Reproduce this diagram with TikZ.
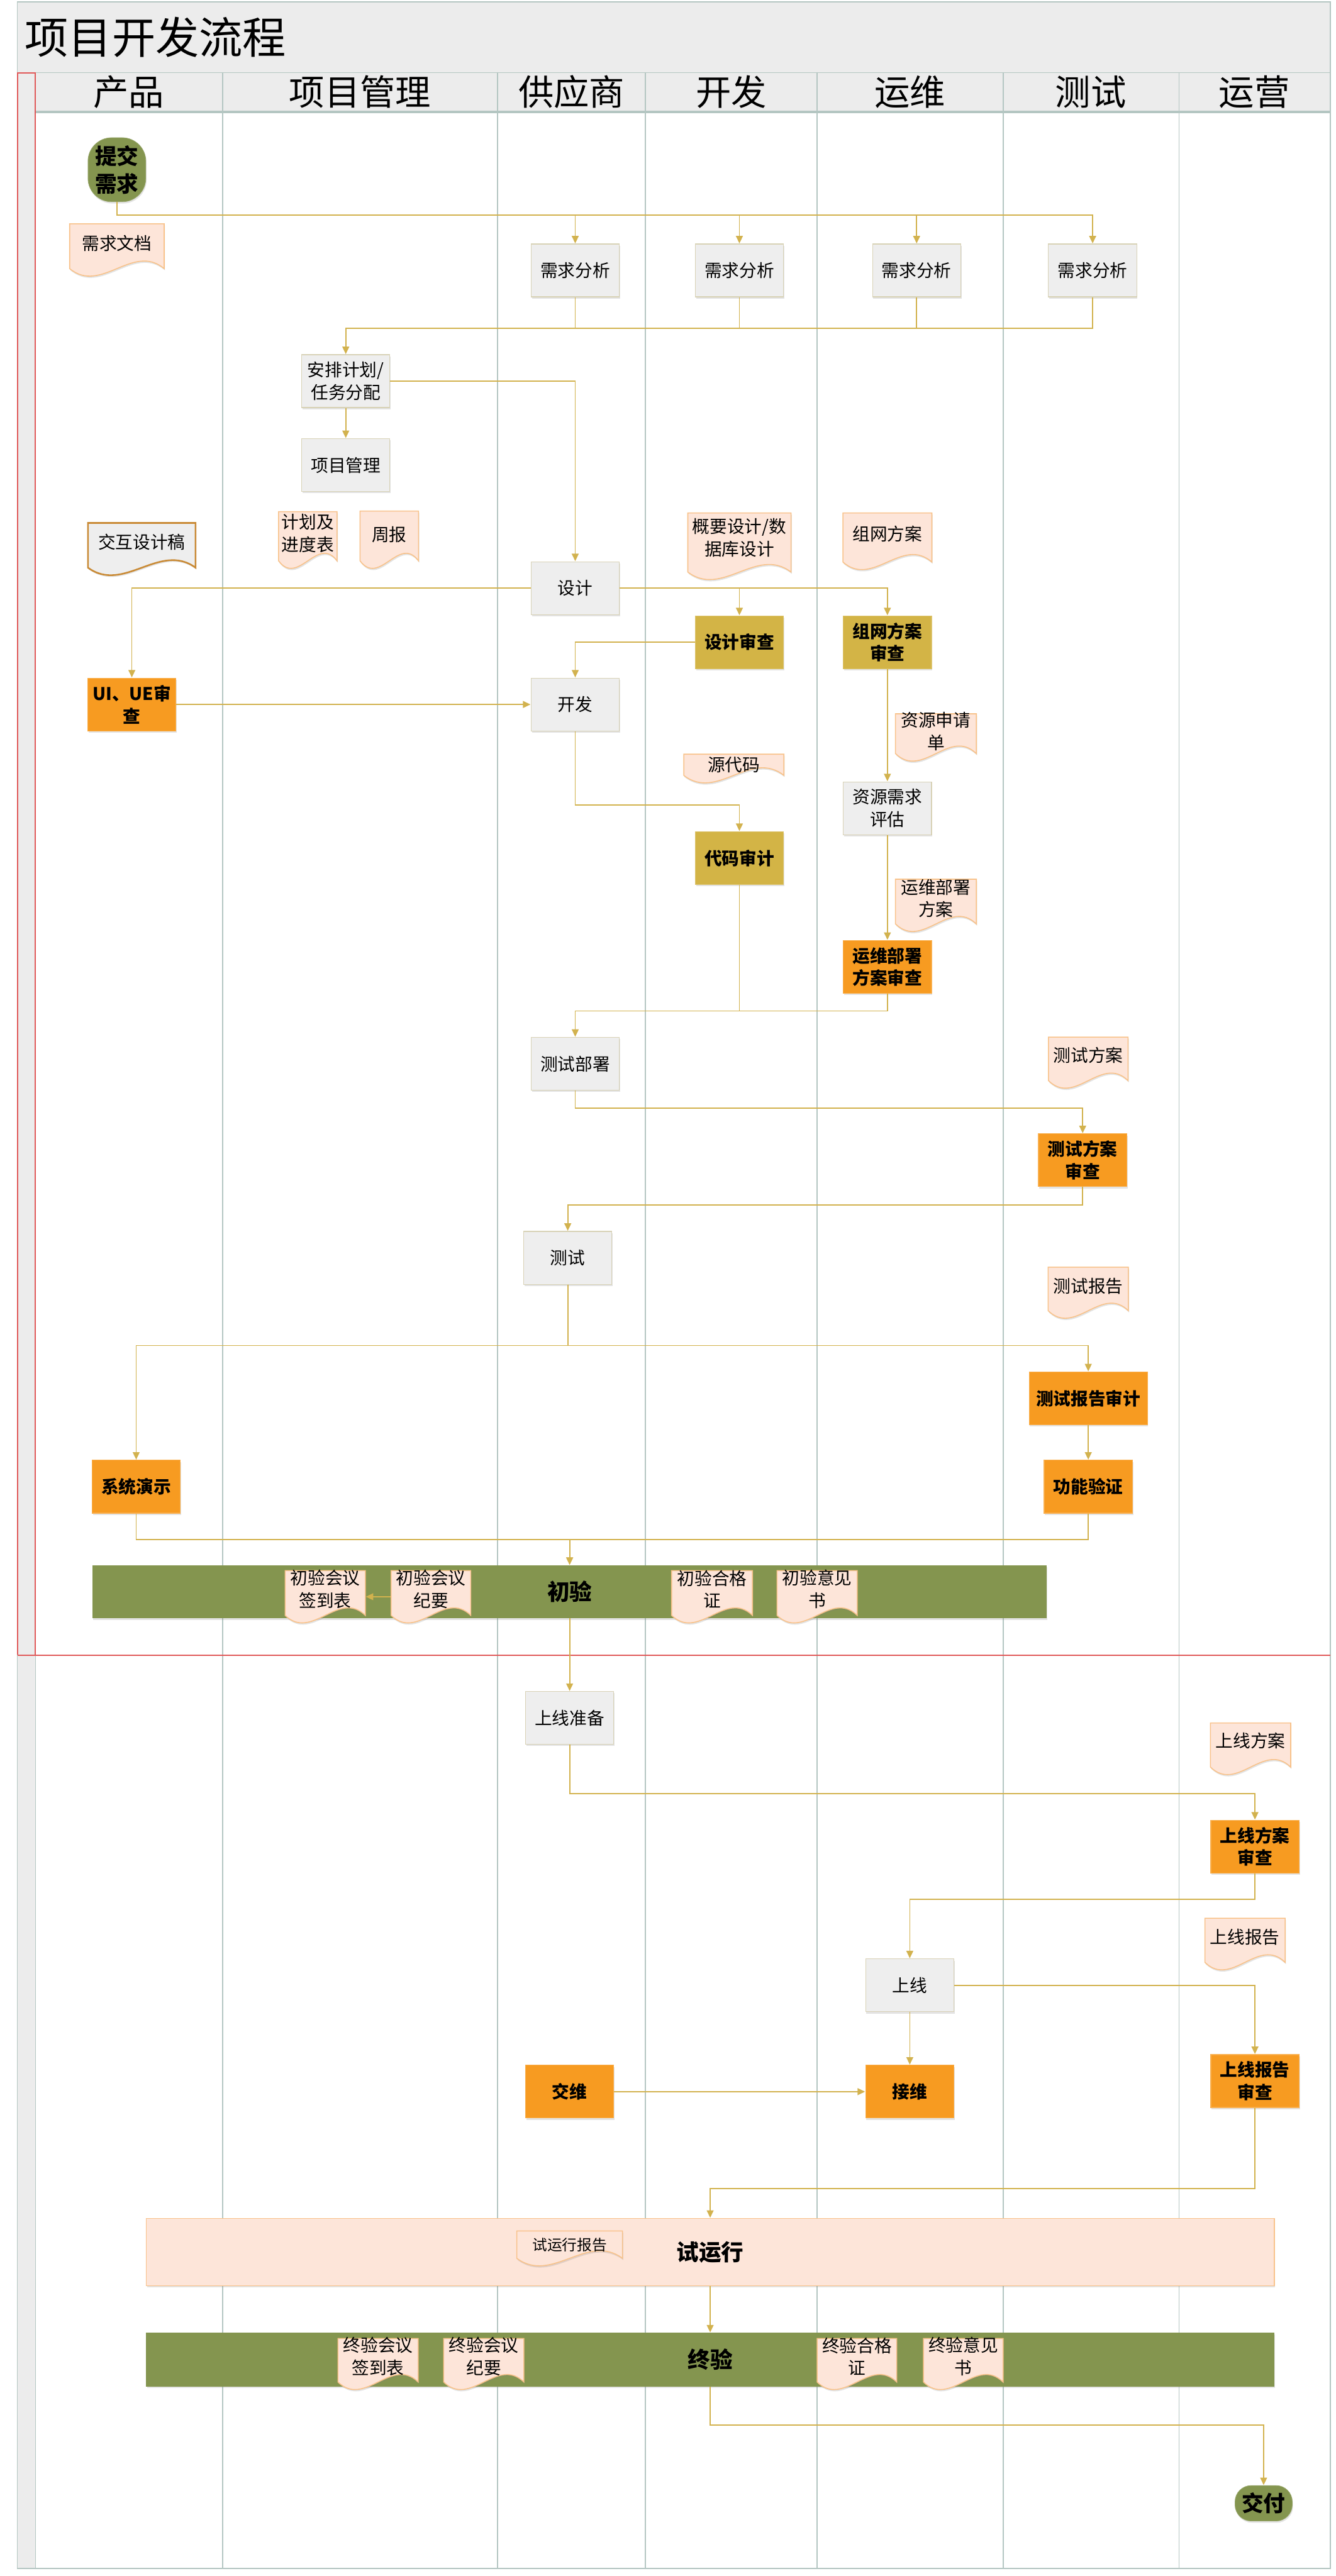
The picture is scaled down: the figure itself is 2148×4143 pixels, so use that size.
\documentclass[tikz,border=0pt]{standalone}
\usepackage{fontspec}
\setmainfont{Noto Sans CJK SC}
\usetikzlibrary{arrows.meta,shadows,calc}
\definecolor{boxgray}{HTML}{EEEEEE}
\definecolor{boxline}{HTML}{D8D2B6}
\definecolor{orangefill}{HTML}{F79B21}
\definecolor{goldfill}{HTML}{D3B446}
\definecolor{greenfill}{HTML}{84954F}
\definecolor{peach}{HTML}{FDE5D9}
\definecolor{peachline}{HTML}{F8C28A}
\definecolor{connc}{HTML}{D2B24E}
\definecolor{lanec}{HTML}{B4C6C2}
\definecolor{headfill}{HTML}{ECECEC}
\definecolor{redline}{HTML}{E05858}
\definecolor{ixdline}{HTML}{C98A35}
\newcommand\docshape[8]{%
  \pgfmathsetmacro\dxL{#2-#4/2}%
  \pgfmathsetmacro\dxR{#2+#4/2}%
  \pgfmathsetmacro\dyB{#3+#5-12}%
  \pgfmathsetmacro\dxA{#2-#4/6}%
  \pgfmathsetmacro\dxB{#2+#4/6}%
  \pgfmathsetmacro\dyA{\dyB+42}%
  \pgfmathsetmacro\dyC{\dyB-42}%
  \pgfmathsetmacro\dyM{#3+#5/2}%
  \pgfmathsetmacro\dyT{#3+#6}%
  \draw[#7] (\dxL,#3) -- (\dxL,\dyB) .. controls (\dxA,\dyA) and (\dxB,\dyC) .. (\dxR,\dyB) -- (\dxR,#3) -- cycle;
  \node[hidden,minimum width=#4*0.5pt,minimum height=#5*0.5pt] (#1) at (#2,\dyM) {};
  \node[doctext] (#1-t) at (#2,\dyT) {#8};
}
\begin{document}
\begin{tikzpicture}[x=0.5pt,y=-0.5pt,
  every node/.style={font=\fontsize{14}{18}\selectfont},
  shad/.style={drop shadow={shadow xshift=0.6pt,shadow yshift=-1.4pt,opacity=0.22}},
  pbox/.style={shad,draw=boxline,line width=0.6pt,fill=boxgray,minimum width=71pt,minimum height=42.5pt,inner sep=1pt,align=center},
  obox/.style={pbox,fill=orangefill,draw=orangefill!80!white,font=\fontsize{14}{18}\selectfont\bfseries},
  gbox/.style={pbox,fill=goldfill,draw=goldfill!80!white,font=\fontsize{14}{18}\selectfont\bfseries},
  term/.style={shad,fill=greenfill,draw=greenfill!85!white,align=center,inner sep=1pt,font=\fontsize{17.5}{22}\selectfont\bfseries},
  band/.style={shad,inner sep=0pt,font=\fontsize{18}{22}\selectfont\bfseries},
  wire/.style={draw=connc,line width=0.9pt},
  arr/.style={wire,-{Triangle[length=6pt,width=5.5pt]},shorten >=0.2pt},
  docpath/.style={fill=peach,draw=peachline,line width=0.8pt,shad},
  ixdpath/.style={fill=boxgray,draw=ixdline,line width=1.3pt,shad},
  doctext/.style={inner sep=0pt,align=center},
  hidden/.style={inner sep=0pt,draw=none},
  head/.style={font=\fontsize{28.5}{32}\selectfont}
]
\useasboundingbox (0,0) rectangle (2148,4143);
% title band
\fill[white] (0,0) rectangle (2148,4143);
\draw[draw=lanec,fill=headfill,line width=0.8pt] (28,3) rectangle (2139,117);
\node[anchor=west,font=\fontsize{35}{40}\selectfont] (title) at (33,60) {项目开发流程};
% header band
\draw[draw=lanec,fill=headfill,line width=0.8pt] (57,117) rectangle (2139,180);
\draw[lanec,line width=1.6pt] (57,180) -- (2139,180);
% left strips
\fill[headfill] (28,117) rectangle (57,4131);
\draw[redline,line width=0.9pt] (28,117) rectangle (57,2662);
\draw[lanec,line width=0.8pt] (28,2662) rectangle (57,4131);
% lane dividers
\foreach \xx in {358,800,1038,1314,1613,1896}{
  \draw[lanec,line width=0.8pt] (\xx,117) -- (\xx,4131);
}
\draw[lanec,line width=0.8pt] (2139,117) -- (2139,4131) -- (57,4131);
\draw[redline,line width=0.8pt] (28,2662) -- (2139,2662);
% headers
\node[head] (h1) at (207,148) {产品};
\node[head] (h2) at (579,148) {项目管理};
\node[head] (h3) at (919,148) {供应商};
\node[head] (h4) at (1176,148) {开发};
\node[head] (h5) at (1463,148) {运维};
\node[head] (h6) at (1754,148) {测试};
\node[head] (h7) at (2017,148) {运营};

% terminals
\node[term,minimum width=46.5pt,minimum height=51.5pt,rounded corners=19pt] (submit) at (188,273) {提交\\需求};
\node[term,minimum width=46pt,minimum height=28.5pt,rounded corners=13pt] (deliver) at (2032,4026) {交付};

% gray process boxes
\node[pbox] (ra1) at (925,435) {需求分析};
\node[pbox] (ra2) at (1189,435) {需求分析};
\node[pbox] (ra3) at (1474,435) {需求分析};
\node[pbox] (ra4) at (1757,435) {需求分析};
\node[pbox] (plan) at (556,613) {安排计划/\\任务分配};
\node[pbox] (pm) at (556,748) {项目管理};
\node[pbox] (design) at (925,946) {设计};
\node[pbox] (dev) at (925,1133) {开发};
\node[pbox] (resev) at (1427,1300) {资源需求\\评估};
\node[pbox] (testdeploy) at (925,1711) {测试部署};
\node[pbox] (test) at (913,2023) {测试};
\node[pbox] (prep) at (916,2763) {上线准备};
\node[pbox] (online) at (1463,3193) {上线};

% orange boxes
\node[obox] (uiue) at (212,1133) {UI、UE审\\查};
\node[obox] (opsrev) at (1427,1555) {运维部署\\方案审查};
\node[obox] (testplanrev) at (1741,1866) {测试方案\\审查};
\node[obox] (demo) at (219,2391) {系统演示};
\node[obox,minimum width=95pt] (testrepaudit) at (1750,2249) {测试报告审计};
\node[obox] (funcver) at (1750,2391) {功能验证};
\node[obox] (onlineplanrev) at (2018,2970) {上线方案\\审查};
\node[obox] (onlinereprev) at (2018,3347) {上线报告\\审查};
\node[obox] (handover) at (916,3364) {交维};
\node[obox] (takeover) at (1463,3364) {接维};

% gold boxes
\node[gbox] (designrev) at (1189,1033) {设计审查};
\node[gbox] (netrev) at (1427,1033) {组网方案\\审查};
\node[gbox] (codeaudit) at (1189,1380) {代码审计};

% bands
\node[band,fill=greenfill,minimum width=767pt,minimum height=42.5pt] (initial) at (916,2560) {初验};
\node[band,fill=peach,draw=peachline,line width=0.8pt,minimum width=907pt,minimum height=54pt] (trial) at (1142,3622) {试运行};
\node[band,fill=greenfill,minimum width=907pt,minimum height=43pt] (final) at (1142,3795) {终验};

% documents
\docshape{docreq}{188}{360}{152}{84}{31}{docpath}{需求文档}
\docshape{docixd}{228}{841}{173}{84}{31}{ixdpath}{交互设计稿}
\docshape{docplan}{495}{823}{94}{91}{35}{docpath}{计划及\\进度表}
\docshape{docweek}{626}{822}{94}{92}{38}{docpath}{周报}
\docshape{docoutline}{1189}{825}{166}{107}{40}{docpath}{概要设计/数\\据库设计}
\docshape{docnet}{1427}{825}{143}{91}{34}{docpath}{组网方案}
\docshape{docresreq}{1505}{1148}{130}{76}{28}{docpath}{资源申请\\单}
\docshape{docsrc}{1180}{1213}{161}{46}{17}{docpath}{源代码}
\docshape{docops}{1505}{1414}{130}{84}{31}{docpath}{运维部署\\方案}
\docshape{doctestplan}{1750}{1668}{128}{82}{29}{docpath}{测试方案}
\docshape{doctestrep}{1750}{2038}{129}{82}{31}{docpath}{测试报告}
\docshape{doci1}{523}{2526}{129}{84}{30}{docpath}{初验会议\\签到表}
\docshape{doci2}{693}{2526}{128}{84}{30}{docpath}{初验会议\\纪要}
\docshape{doci3}{1145}{2526}{130}{84}{30}{docpath}{初验合格\\证}
\docshape{doci4}{1314}{2526}{129}{84}{30}{docpath}{初验意见\\书}
\docshape{docolplan}{2011}{2771}{129}{83}{29}{docpath}{上线方案}
\docshape{docolrep}{2002}{3085}{129}{83}{30}{docpath}{上线报告}
\docshape{doctrialrep}{916}{3588}{170}{56}{22}{docpath}{\fontsize{12}{15}\selectfont 试运行报告}
\docshape{docf1}{608}{3761}{129}{82}{29}{docpath}{终验会议\\签到表}
\docshape{docf2}{778}{3761}{129}{82}{29}{docpath}{终验会议\\纪要}
\docshape{docf3}{1378}{3761}{128}{82}{29}{docpath}{终验合格\\证}
\docshape{docf4}{1549}{3761}{128}{82}{29}{docpath}{终验意见\\书}

% bus coordinates
\coordinate (b1) at (0,346);
\coordinate (b2) at (0,528);
\coordinate (b3) at (0,1295);
\coordinate (b4) at (0,1626);
\coordinate (b5) at (0,1782);
\coordinate (b6) at (0,1938);
\coordinate (b7) at (0,2164);
\coordinate (b8) at (0,2476);
\coordinate (b9) at (0,2885);
\coordinate (b10) at (0,3055);
\coordinate (b11) at (0,3520);
\coordinate (b12) at (0,3900);

% connectors
\foreach \n in {ra1,ra2,ra3,ra4}{
  \draw[arr] (submit.south) -- (submit.south |- b1) -| (\n.north);
}
\foreach \n in {ra1,ra2,ra3}{
  \draw[wire] (\n.south) -- (\n.south |- b2);
}
\draw[arr] (ra4.south) |- (plan.north |- b2) -- (plan.north);
\draw[arr] (plan.south) -- (pm.north);
\draw[arr] (plan.east) -| (design.north);
\draw[arr] (design.west) -| (uiue.north);
\draw[arr] (design.east) -| (designrev.north);
\draw[arr] (design.east) -| (netrev.north);
\draw[arr] (uiue.east) -- (dev.west);
\draw[arr] (designrev.west) -| (dev.north);
\draw[arr] (netrev.south) -- (resev.north);
\draw[arr] (dev.south) |- (codeaudit.north |- b3) -- (codeaudit.north);
\draw[arr] (resev.south) -- (opsrev.north);
\draw[wire] (codeaudit.south) -- (codeaudit.south |- b4);
\draw[arr] (opsrev.south) |- (testdeploy.north |- b4) -- (testdeploy.north);
\draw[arr] (testdeploy.south) |- (testplanrev.north |- b5) -- (testplanrev.north);
\draw[arr] (testplanrev.south) |- (test.north |- b6) -- (test.north);
\draw[arr] (test.south) |- (demo.north |- b7) -- (demo.north);
\draw[arr] (test.south) |- (testrepaudit.north |- b7) -- (testrepaudit.north);
\draw[arr] (testrepaudit.south) -- (funcver.north);
\draw[arr] (demo.south) |- (initial.north |- b8) -- (initial.north);
\draw[arr] (funcver.south) |- (initial.north |- b8) -- (initial.north);
\draw[arr] (initial.south) -- (prep.north);
\draw[arr] (prep.south) |- (onlineplanrev.north |- b9) -- (onlineplanrev.north);
\draw[arr] (onlineplanrev.south) |- (online.north |- b10) -- (online.north);
\draw[arr] (online.east) -| (onlinereprev.north);
\draw[arr] (online.south) -- (takeover.north);
\draw[arr] (handover.east) -- (takeover.west);
\draw[arr] (onlinereprev.south) |- (trial.north |- b11) -- (trial.north);
\draw[arr] (trial.south) -- (final.north);
\draw[arr] (final.south) |- (deliver.north |- b12) -- (deliver.north);
\draw[arr] (doci2.west) -- (doci1.east);
\end{tikzpicture}
\end{document}
